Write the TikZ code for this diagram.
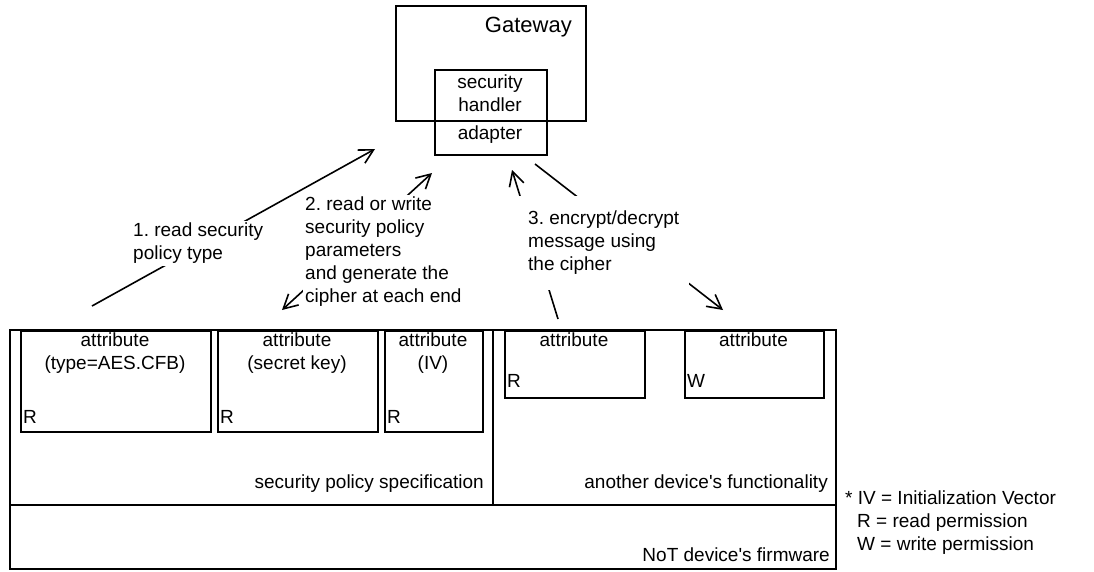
\documentclass[tikz,border=0pt]{standalone}
\usepackage{fontspec}
\setmainfont{Liberation Sans}[Ligatures=TeXOff]
\usetikzlibrary{arrows.meta}
\frenchspacing
\begin{document}
\begin{tikzpicture}[x=1pt,y=-1pt,
  box/.style={draw, line width=1.5pt, inner sep=0pt, anchor=north west},
  txt/.style={font=\fontsize{19}{23}\selectfont, inner sep=0pt},
  note/.style={txt, align=left, fill=white, anchor=north west},
  wire/.style={line width=1.6pt},
  head/.style={-{Straight Barb[length=14pt,width=15pt]}},
  heads/.style={{Straight Barb[length=14pt,width=15pt]}-{Straight Barb[length=14pt,width=15pt]}}]
\useasboundingbox (0,0) rectangle (1094,571);

% gateway with its security handler / adapter
\node[box, minimum width=190pt, minimum height=115pt] (gw) at (395,5) {};
\node[txt, font=\fontsize{22}{26}\selectfont, anchor=east] (gwl) at (572,27) {Gateway};
\node[box, minimum width=112pt, minimum height=85pt] (sh) at (434,69) {};
\node[txt, align=center] (shl) at (490,93) {security\\handler};
\node[txt] (ad) at (490,135) {adapter};

% NoT device
\node[box, minimum width=826pt, minimum height=239pt] (fw) at (9,329) {};
\node[box, minimum width=483pt, minimum height=175pt] (sps) at (9,329) {};
\node[box, minimum width=343pt, minimum height=175pt] (adf) at (492,329) {};
\node[txt, anchor=base east] (fwl) at (830,561) {NoT device's firmware};
\node[txt, anchor=base east] (spsl) at (484,488) {security policy specification};
\node[txt, anchor=base east] (adfl) at (828,488) {another device's functionality};

% attributes
\node[box, minimum width=190pt, minimum height=101pt] (b1) at (20,330) {};
\node[box, minimum width=160pt, minimum height=101pt] (b2) at (217,330) {};
\node[box, minimum width=98pt, minimum height=101pt] (b3) at (384,330) {};
\node[box, minimum width=140pt, minimum height=67pt] (b4) at (504,330) {};
\node[box, minimum width=139pt, minimum height=67pt] (b5) at (684,330) {};

\node[txt, align=center, anchor=north] (b1t) at (115,333) {attribute\\(type=AES.CFB)};
\node[txt, align=center, anchor=north] (b2t) at (297,333) {attribute\\(secret key)};
\node[txt, align=center, anchor=north] (b3t) at (433,333) {attribute\\(IV)};
\node[txt, anchor=north] (b4t) at (574,333) {attribute};
\node[txt, anchor=north] (b5t) at (753.5,333) {attribute};

\node[txt, anchor=base west] (b1p) at (23,423) {R};
\node[txt, anchor=base west] (b2p) at (220,423) {R};
\node[txt, anchor=base west] (b3p) at (387,423) {R};
\node[txt, anchor=base west] (b4p) at (507,387) {R};
\node[txt, anchor=base west] (b5p) at (687,387) {W};

% legend
\node[txt, align=left, anchor=north west] (key) at (845,491)
  {* IV = Initialization Vector\\\hspace*{12pt}R = read permission\\\hspace*{12pt}W = write permission};

% message flow
\coordinate (a1s) at (92,306);   \coordinate (a1e) at (375,149);
\coordinate (a2s) at (282,310);  \coordinate (a2e) at (432,173);
\coordinate (a3s) at (558,319);  \coordinate (a3e) at (512,170);
\coordinate (a4s) at (535,164);  \coordinate (a4e) at (723,310);
\draw[wire, head] (a1s) -- (a1e);
\draw[wire, heads] (a2s) -- (a2e);
\draw[wire, head] (a3s) -- (a3e);
\draw[wire, head] (a4s) -- (a4e);

\node[note, inner sep=2pt] (l1) at (131,221) {1. read security\\policy type};
\node[note, inner sep=2pt] (l2) at (303,195) {2. read or write\\security policy\\parameters\\and generate the\\cipher at each end};
\node[note, inner xsep=10pt, inner ysep=15pt] (l3) at (518,196) {3. encrypt/decrypt\\message using\\the cipher};
\end{tikzpicture}
\end{document}
